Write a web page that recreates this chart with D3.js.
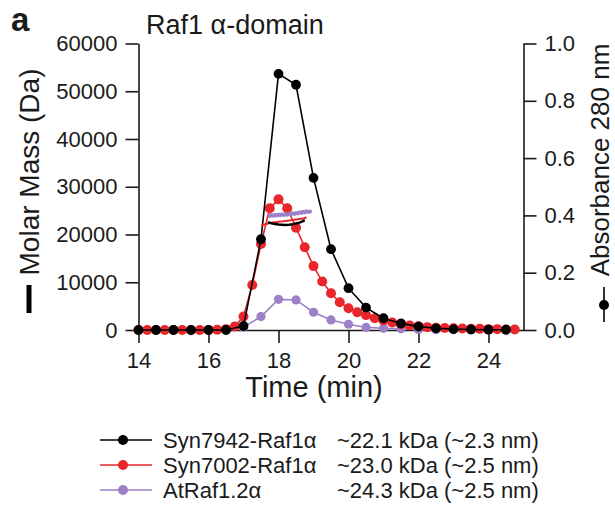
<!DOCTYPE html>
<html>
<head>
<meta charset="utf-8">
<script src="https://cdn.jsdelivr.net/npm/d3@7/dist/d3.min.js"></script>
<style>
  html, body { margin: 0; padding: 0; background: #fff; }
  svg { display: block; }
  text { font-family: "Liberation Sans", Arial, Helvetica, sans-serif; fill: #1a1a1a; }
</style>
</head>
<body>
<svg id="chart" width="615" height="507"></svg>
<script>
// Elution times (min) and absorbance at 280 nm
const timesBlack = [14, 14.5, 15, 15.5, 16, 16.5, 17, 17.5, 18, 18.5, 19, 19.5, 20, 20.5, 21, 21.5, 22, 22.5, 23, 23.5, 24, 24.5];
const absBlack   = [0, 0, 0, 0, 0, 0, 0.014, 0.317, 0.894, 0.856, 0.531, 0.282, 0.146, 0.078, 0.041, 0.023, 0.012, 0.006, 0.003, 0.002, 0.001, 0.001];

const timesRed = [14, 14.25, 14.5, 14.75, 15, 15.25, 15.5, 15.75, 16, 16.25, 16.5, 16.75, 17, 17.25, 17.5, 17.75, 18, 18.25, 18.5, 18.75, 19, 19.25, 19.5, 19.75, 20, 20.25, 20.5, 20.75, 21, 21.25, 21.5, 21.75, 22, 22.25, 22.5, 22.75, 23, 23.25, 23.5, 23.75, 24, 24.25, 24.5, 24.75];
const absRed   = [0, 0, 0, 0, 0, 0, 0, 0, 0, 0.001, 0.003, 0.012, 0.047, 0.157, 0.30, 0.425, 0.456, 0.425, 0.357, 0.289, 0.223, 0.169, 0.128, 0.097, 0.076, 0.062, 0.052, 0.041, 0.033, 0.026, 0.020, 0.016, 0.013, 0.010, 0.008, 0.007, 0.006, 0.005, 0.004, 0.004, 0.003, 0.003, 0.002, 0.002];

const timesPurple = [14, 14.5, 15, 15.5, 16, 16.5, 17, 17.5, 18, 18.5, 19, 19.5, 20, 20.5, 21, 21.5, 22, 22.5, 23, 23.5, 24, 24.5];
const absPurple   = [0, 0, 0, 0, 0, 0, 0.010, 0.047, 0.107, 0.105, 0.062, 0.035, 0.020, 0.009, 0.006, 0.004, 0.002, 0.001, 0.001, 0, 0, 0];

// Molar mass (Da) across the peak
const mmTimesBlack = [17.70, 17.80, 17.90, 18.00, 18.10, 18.20, 18.30, 18.40, 18.50, 18.60, 18.70, 18.75];
const mmBlack      = [22600, 22350, 22200, 22100, 22050, 22000, 22050, 22150, 22300, 22500, 22800, 23000];

const mmTimesRed = [17.50, 17.60, 17.70, 17.80, 17.90, 18.00, 18.10, 18.20, 18.30, 18.40, 18.50, 18.60, 18.70, 18.80];
const mmRed      = [21800, 22100, 22300, 22450, 22550, 22650, 22750, 22850, 22950, 23050, 23150, 23250, 23350, 23550];

const mmTimesPurple = [17.75, 17.80, 17.85, 17.90, 17.95, 18.00, 18.05, 18.10, 18.15, 18.20, 18.25, 18.30, 18.35, 18.40, 18.45, 18.50, 18.55, 18.60, 18.65, 18.70, 18.75, 18.80, 18.85, 18.90];
const mmPurple      = [23900, 24100, 23950, 24150, 24000, 24200, 24050, 24250, 24100, 24300, 24150, 24350, 24250, 24450, 24300, 24500, 24400, 24650, 24500, 24750, 24600, 24850, 24700, 24800];

// Axis ticks
const xTicks = [14, 16, 18, 20, 22, 24];
const mmTicks = [0, 10000, 20000, 30000, 40000, 50000, 60000];
const absTicks = [0, 0.2, 0.4, 0.6, 0.8, 1.0];

// Legend entries
const legendNames = ["Syn7942-Raf1\u03b1", "Syn7002-Raf1\u03b1", "AtRaf1.2\u03b1"];
const legendSizes = ["~22.1 kDa (~2.3 nm)", "~23.0 kDa (~2.5 nm)", "~24.3 kDa (~2.5 nm)"];
const colors = ["#000000", "#e8262b", "#9c80c8"];

const svg = d3.select("#chart");

const x = d3.scaleLinear().domain([14, 25]).range([138.5, 523.5]);
const yMM = d3.scaleLinear().domain([0, 60000]).range([330, 43.5]);
const yAbs = d3.scaleLinear().domain([0, 1]).range([330, 43.5]);

function styleAxis(g) {
  g.selectAll("path.domain").attr("stroke", "#1a1a1a").attr("stroke-width", 1.6);
  g.selectAll(".tick line").attr("stroke", "#1a1a1a").attr("stroke-width", 1.6);
  g.selectAll(".tick text").attr("font-size", 22).attr("fill", "#1a1a1a")
    .attr("font-family", "'Liberation Sans', Arial, sans-serif");
}

svg.append("g").attr("transform", `translate(${x(14)},0)`)
  .call(d3.axisLeft(yMM).tickValues(mmTicks).tickFormat(d3.format("d")).tickSize(13).tickSizeOuter(0).tickPadding(8))
  .call(styleAxis);

svg.append("g").attr("transform", `translate(${x(25)},0)`)
  .call(d3.axisRight(yAbs).tickValues(absTicks).tickFormat(d3.format(".1f")).tickSize(13).tickSizeOuter(0).tickPadding(8))
  .call(styleAxis);

svg.append("g").attr("transform", `translate(0,${yAbs(0)})`)
  .call(d3.axisBottom(x).tickValues(xTicks).tickFormat(d3.format("d")).tickSize(13).tickSizeOuter(0).tickPadding(9))
  .call(styleAxis);

// Absorbance traces
function absSeries(times, vals, color, r) {
  const pts = times.map((t, i) => [t, vals[i]]);
  const g = svg.append("g");
  g.append("path").datum(pts)
    .attr("fill", "none").attr("stroke", color).attr("stroke-width", 1.6)
    .attr("d", d3.line().x(d => x(d[0])).y(d => yAbs(d[1])));
  g.selectAll("circle").data(pts).join("circle")
    .attr("cx", d => x(d[0])).attr("cy", d => yAbs(d[1])).attr("r", r).attr("fill", color);
}
absSeries(timesPurple, absPurple, colors[2], 4.6);
absSeries(timesRed, absRed, colors[1], 5);
absSeries(timesBlack, absBlack, colors[0], 4.9);

// Molar mass traces
function mmSeries(times, vals, color, w, dots) {
  const pts = times.map((t, i) => [t, vals[i]]);
  const g = svg.append("g");
  g.append("path").datum(pts)
    .attr("fill", "none").attr("stroke", color).attr("stroke-width", w).attr("stroke-linejoin", "round")
    .attr("d", d3.line().x(d => x(d[0])).y(d => yMM(d[1])));
  if (dots) {
    g.selectAll("circle").data(pts).join("circle")
      .attr("cx", d => x(d[0])).attr("cy", d => yMM(d[1])).attr("r", 2).attr("fill", color);
  }
}
mmSeries(mmTimesRed, mmRed, colors[1], 2, false);
mmSeries(mmTimesBlack, mmBlack, colors[0], 2.4, false);
mmSeries(mmTimesPurple, mmPurple, colors[2], 2.2, true);

// Panel letter and title
svg.append("text").attr("x", 11).attr("y", 31).attr("font-size", 33).attr("font-weight", "bold").text("a");
svg.append("text").attr("x", 146).attr("y", 34).attr("font-size", 27).text("Raf1 \u03b1-domain");

// Axis titles
svg.append("text").attr("x", 314).attr("y", 397).attr("text-anchor", "middle").attr("font-size", 29).text("Time (min)");

svg.append("text").attr("transform", "translate(39,172) rotate(-90)").attr("text-anchor", "middle")
  .attr("font-size", 28).text("Molar Mass (Da)");
svg.append("line").attr("x1", 29).attr("x2", 29).attr("y1", 285).attr("y2", 313)
  .attr("stroke", "#000").attr("stroke-width", 5);

svg.append("text").attr("transform", "translate(609,160) rotate(-90)").attr("text-anchor", "middle")
  .attr("font-size", 26).text("Absorbance 280 nm");
svg.append("line").attr("x1", 604).attr("x2", 604).attr("y1", 287).attr("y2", 322)
  .attr("stroke", "#000").attr("stroke-width", 1.6);
svg.append("circle").attr("cx", 604).attr("cy", 305).attr("r", 5).attr("fill", "#000");

// Legend
const legend = svg.append("g");
const rowY = [440, 465, 490];
legendNames.forEach((name, i) => {
  const y = rowY[i];
  legend.append("line").attr("x1", 100).attr("x2", 152).attr("y1", y).attr("y2", y)
    .attr("stroke", colors[i]).attr("stroke-width", 1.6);
  legend.append("circle").attr("cx", 123).attr("cy", y).attr("r", 5).attr("fill", colors[i]);
  legend.append("text").attr("x", 163).attr("y", y + 8).attr("font-size", 22).text(name);
  legend.append("text").attr("x", 337).attr("y", y + 8).attr("font-size", 22).text(legendSizes[i]);
});
</script>
</body>
</html>
